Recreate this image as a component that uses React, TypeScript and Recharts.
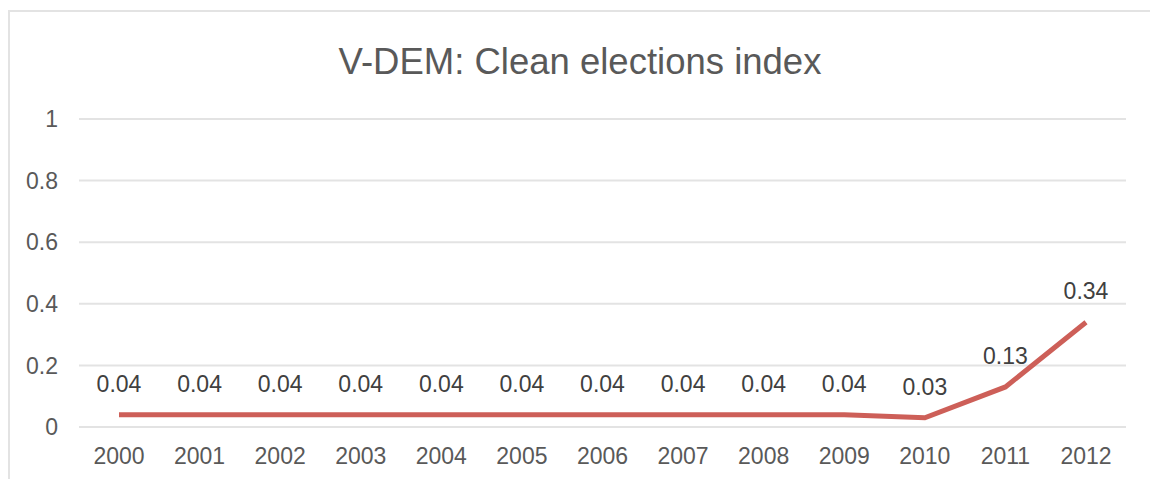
import { LineChart, Line, XAxis, YAxis, CartesianGrid, LabelList } from 'recharts';

const years = ['2000', '2001', '2002', '2003', '2004', '2005', '2006', '2007', '2008', '2009', '2010', '2011', '2012'];
const cleanIndex = [0.04, 0.04, 0.04, 0.04, 0.04, 0.04, 0.04, 0.04, 0.04, 0.04, 0.03, 0.13, 0.34];
const yTicks = [0, 0.2, 0.4, 0.6, 0.8, 1];

const chartTitle = 'V-DEM: Clean elections index';

const font = '"Liberation Sans", Arial, sans-serif';
const textColor = '#595959';

export default function App() {
    const data = years.map((y, i) => ({ year: y, value: cleanIndex[i] }));

    return (
        <div style={{ position: 'absolute', left: 0, top: 0, width: 1150, height: 479, overflow: 'hidden', background: '#fff' }}>
            <div style={{ position: 'absolute', left: 8, top: 10, width: 1300, height: 600, border: '2px solid #e3e3e3' }} />
            <div style={{
                position: 'absolute', left: 0, top: 44, width: 1160, textAlign: 'center',
                fontFamily: font, fontSize: 36.5, lineHeight: '36px', color: textColor
            }}>
                {chartTitle}
            </div>
            <div style={{ position: 'absolute', left: 0, top: 0 }}>
                <LineChart width={1150} height={479} data={data} margin={{ top: 119, right: 24, bottom: 0, left: 0 }}>
                    <CartesianGrid vertical={false} stroke="#e3e3e3" strokeWidth={2} />
                    <XAxis
                        dataKey="year"
                        height={52}
                        axisLine={false}
                        tickLine={false}
                        tickSize={0}
                        tickMargin={21}
                        padding={{ left: 40, right: 40 }}
                        interval={0}
                        fontSize={23}
                        fontFamily={font}
                        tick={{ fill: textColor, fontSize: 23, fontFamily: font }}
                    />
                    <YAxis
                        width={79}
                        domain={[0, 1]}
                        ticks={yTicks}
                        axisLine={false}
                        tickLine={false}
                        tickSize={0}
                        tickMargin={21}
                        fontSize={23}
                        fontFamily={font}
                        tick={{ fill: textColor, fontSize: 23, fontFamily: font }}
                    />
                    <Line
                        type="linear"
                        dataKey="value"
                        stroke="#cd5f58"
                        strokeWidth={5}
                        dot={false}
                        isAnimationActive={false}
                    >
                        <LabelList
                            dataKey="value"
                            position="top"
                            offset={23}
                            fill="#404040"
                            fontSize={23}
                            fontFamily={font}
                            formatter={(v: any) => Number(v).toFixed(2)}
                        />
                    </Line>
                </LineChart>
            </div>
        </div>
    );
}
